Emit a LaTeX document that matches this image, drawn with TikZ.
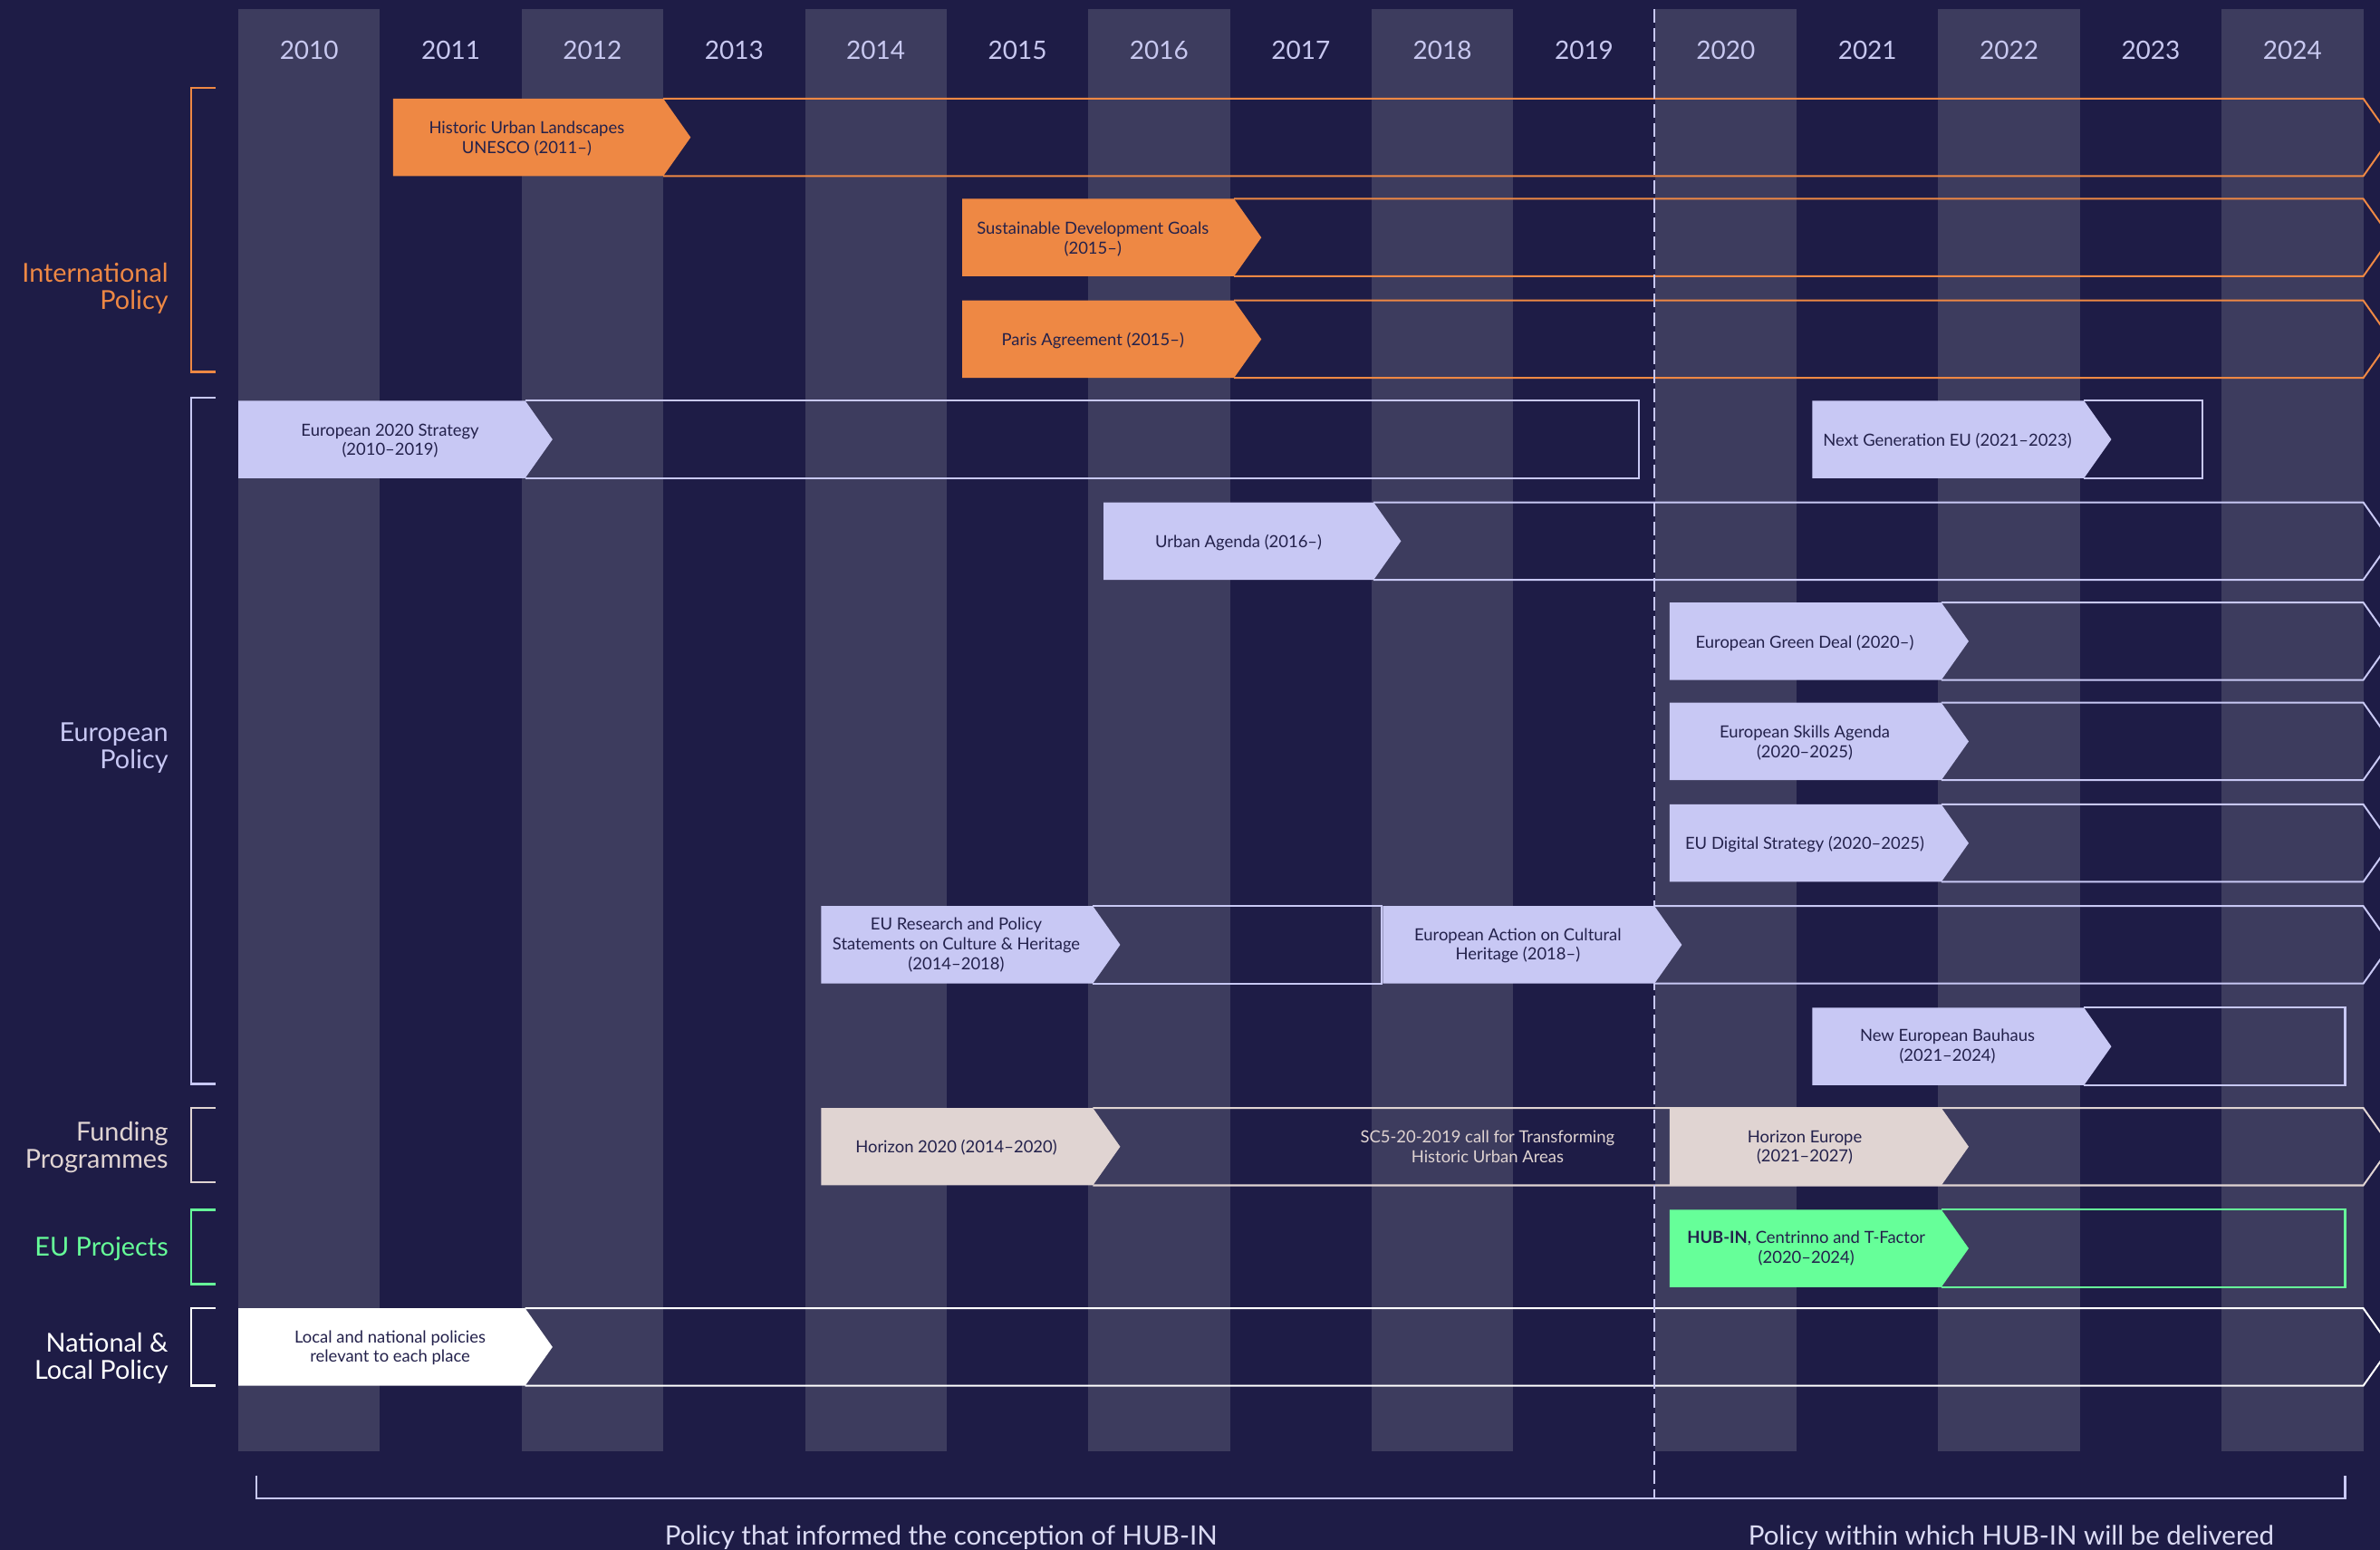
\documentclass[tikz,border=0pt]{standalone}
\usepackage{fontspec}
\setmainfont{Lato}
\definecolor{bgc}{RGB}{30,28,70}
\definecolor{colc}{RGB}{61,60,94}
\definecolor{orc}{RGB}{238,136,68}
\definecolor{lavc}{RGB}{200,200,244}
\definecolor{bgec}{RGB}{224,212,210}
\definecolor{grc}{RGB}{102,255,153}
\definecolor{txtd}{RGB}{35,33,75}
\definecolor{yearc}{RGB}{200,200,240}
\definecolor{botc}{RGB}{220,220,245}
\newcommand{\outchev}[4]{\draw[#1,outl] (#3,#2) -- (#4,#2) -- ++(18,25.5) -- ++(-18,25.5) -- (#3,{#2+51});}
\newcommand{\outflat}[4]{\draw[#1,outl] (#3,#2) -- (#4,#2) -- (#4,{#2+51}) -- (#3,{#2+51});}
\newcommand{\chevbox}[4]{\fill[#1] (#3,#2) -- (#4,#2) -- ++(18,25.5) -- ++(-18,25.5) -- (#3,{#2+51}) -- cycle;}
\begin{document}
\begin{tikzpicture}[x=1pt,y=-1pt,
  outl/.style={line width=1.2pt},
  brk/.style={line width=1.5pt},
  yearlbl/.style={anchor=base,text=yearc,font=\fontsize{16.7}{20}\selectfont,inner sep=0},
  grplbl/.style={anchor=east,align=right,font=\fontsize{17.2}{18}\selectfont,inner sep=0},
  boxtxt/.style={align=center,text=txtd,font=\fontsize{11}{13}\selectfont,inner sep=0},
  bottxt/.style={anchor=base,text=botc,font=\fontsize{17.6}{20}\selectfont,inner sep=0}]
\useasboundingbox (0,0) rectangle (1568,1021);
\fill[bgc] (0,0) rectangle (1568,1021);
% columns
\foreach \i in {0,2,...,14} \fill[colc] ({157+\i*93.33},6) rectangle ({157+(\i+1)*93.33},956);
\foreach \i in {0,...,14} {\pgfmathtruncatemacro\yr{2010+\i}
  \node[yearlbl] (y\yr) at ({157+(\i+0.5)*93.33},39) {\yr};}
% outlines
\outchev{orc}{65}{437}{1557}
\outchev{orc}{131}{813}{1557}
\outchev{orc}{198}{813}{1557}
\outflat{lavc}{264}{346}{1080}
\outflat{lavc}{264}{1373}{1451}
\outchev{lavc}{331}{905}{1557}
\outchev{lavc}{397}{1279}{1557}
\outchev{lavc}{463}{1279}{1557}
\outchev{lavc}{530}{1279}{1557}
\outflat{lavc}{597}{720}{910}
\outchev{lavc}{597}{1090}{1557}
\outflat{lavc}{664}{1373}{1545}
\outchev{bgec}{730}{720}{1557}
\outflat{grc}{797}{1279}{1545}
\outchev{white}{862}{346}{1557}
% dashed divider and bottom bracket
\draw[lavc,line width=1.2pt,dash pattern=on 9pt off 3.5pt] (1090,6) -- (1090,987);
\draw[lavc,line width=1.2pt] (169,972) -- (169,987) -- (1545,987) -- (1545,972);
% filled label boxes
\chevbox{orc}{65}{259}{437}
\chevbox{orc}{131}{634}{813}
\chevbox{orc}{198}{634}{813}
\chevbox{lavc}{264}{157}{346}
\chevbox{lavc}{264}{1194}{1373}
\chevbox{lavc}{331}{727}{905}
\chevbox{lavc}{397}{1100}{1279}
\chevbox{lavc}{463}{1100}{1279}
\chevbox{lavc}{530}{1100}{1279}
\chevbox{lavc}{597}{541}{720}
\chevbox{lavc}{597}{911}{1090}
\chevbox{lavc}{664}{1194}{1373}
\chevbox{bgec}{730}{541}{720}
\chevbox{bgec}{730}{1100}{1279}
\chevbox{grc}{797}{1100}{1279}
\chevbox{white}{862}{157}{346}
% texts
\node[boxtxt] (hul) at (347,91.5) {Historic Urban Landscapes\\UNESCO (2011–)};
\node[boxtxt] (sdg) at (720,157.5) {Sustainable Development Goals\\(2015–)};
\node[boxtxt] (paris) at (720,224.5) {Paris Agreement (2015–)};
\node[boxtxt] (eu2020) at (257,290.5) {European 2020 Strategy\\(2010–2019)};
\node[boxtxt] (ngeu) at (1283,290.5) {Next Generation EU (2021–2023)};
\node[boxtxt] (urban) at (816,357.5) {Urban Agenda (2016–)};
\node[boxtxt] (green) at (1189,423.5) {European Green Deal (2020–)};
\node[boxtxt] (skills) at (1189,489.5) {European Skills Agenda\\(2020–2025)};
\node[boxtxt] (digital) at (1189,556.5) {EU Digital Strategy (2020–2025)};
\node[boxtxt] (research) at (630,622.5) {EU Research and Policy\\Statements on Culture \& Heritage\\(2014–2018)};
\node[boxtxt] (action) at (1000,623) {European Action on Cultural\\Heritage (2018–)};
\node[boxtxt] (bauhaus) at (1283,689.5) {New European Bauhaus\\(2021–2024)};
\node[boxtxt] (h2020) at (630,756) {Horizon 2020 (2014–2020)};
\node[boxtxt,text=bgec] (sc5) at (980,755.5) {SC5-20-2019 call for Transforming\\Historic Urban Areas};
\node[boxtxt] (heurope) at (1189,756) {Horizon Europe\\(2021–2027)};
\node[boxtxt] (hubin) at (1190,822.5) {\textbf{HUB-IN}, Centrinno and T-Factor\\(2020–2024)};
\node[boxtxt] (local) at (257,888) {Local and national policies\\relevant to each place};
% group brackets and labels
\draw[orc,brk] (142,58) -- (126,58) -- (126,245) -- (142,245);
\draw[lavc,brk] (142,262) -- (126,262) -- (126,714) -- (142,714);
\draw[bgec,brk] (142,730) -- (126,730) -- (126,779) -- (142,779);
\draw[grc,brk] (142,797) -- (126,797) -- (126,846) -- (142,846);
\draw[white,brk] (142,862) -- (126,862) -- (126,913) -- (142,913);
\node[grplbl,text=orc] (gint) at (111,190) {International\\Policy};
\node[grplbl,text=lavc] (geur) at (111,493) {European\\Policy};
\node[grplbl,text=bgec] (gfund) at (111,756) {Funding\\Programmes};
\node[grplbl,text=grc] (gproj) at (111,823) {EU Projects};
\node[grplbl,text=white] (gnat) at (111,895) {National \&\\Local Policy};
% bottom captions
\node[bottxt] (cap1) at (620,1018) {Policy that informed the conception of HUB-IN};
\node[bottxt] (cap2) at (1325,1018) {Policy within which HUB-IN will be delivered};
\end{tikzpicture}
\end{document}
